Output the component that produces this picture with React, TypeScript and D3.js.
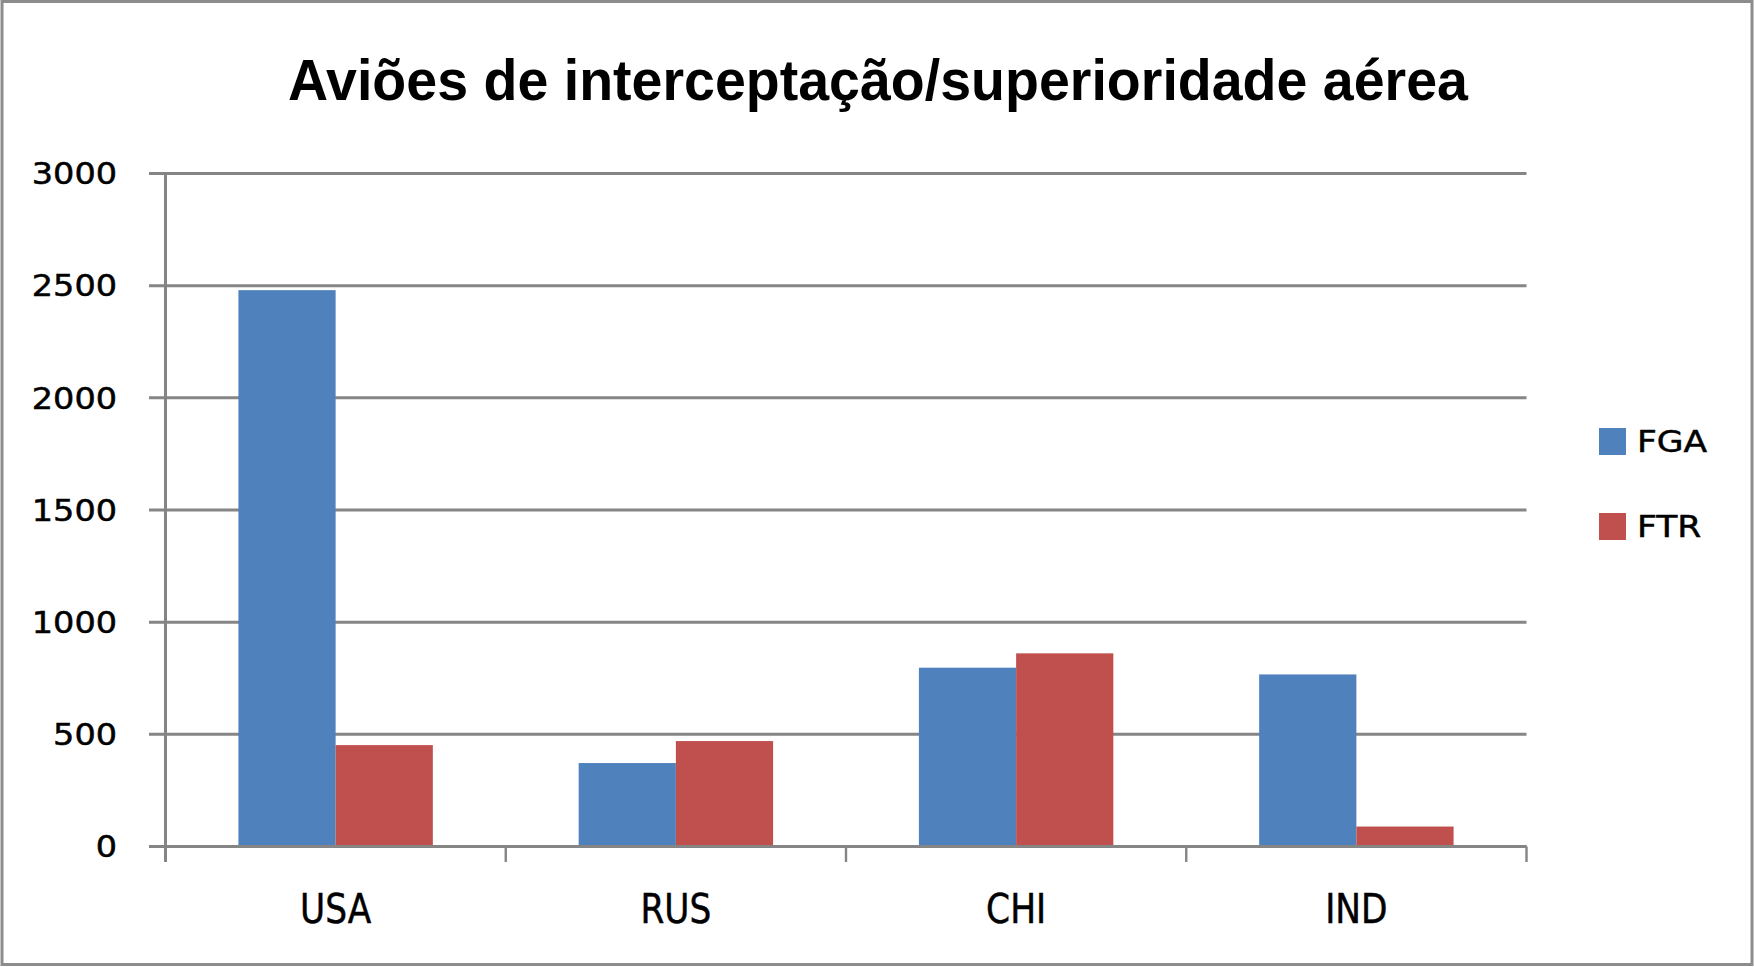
import React from "react";
import * as d3 from "d3";

const categories = ["USA", "RUS", "CHI", "IND"];
const seriesNames = ["FGA", "FTR"];
const fgaValues = [2480, 372, 797, 767];
const ftrValues = [452, 470, 861, 89];
const yTicks = [0, 500, 1000, 1500, 2000, 2500, 3000];
const title = "Aviões de interceptação/superioridade aérea";

const colors = ["#4F81BD", "#C0504D"];

export default function App() {
  const W = 1754;
  const H = 967;
  const left = 165.5;
  const right = 1526.5;
  const top = 173.5;
  const bottom = 846.5;

  const y = d3.scaleLinear().domain([0, 3000]).range([bottom, top]);
  const x0 = d3
    .scaleBand<string>()
    .domain(categories)
    .range([left, right])
    .paddingInner(1.5 / 3.5)
    .paddingOuter(0.75 / 3.5);
  const x1 = d3.scaleBand<string>().domain(seriesNames).range([0, x0.bandwidth()]);
  const step = x0.step();

  const values = [fgaValues, ftrValues];
  const gridColor = "#858585";
  const gw = 3;

  return (
    <svg
      width={W}
      height={H}
      style={{ position: "absolute", left: 0, top: 0, background: "#fff" }}
    >
      <rect x={0} y={0} width={W} height={H} fill="#fff" />
      <rect x={2} y={1.5} width={W - 4} height={H - 4} fill="none" stroke="#8c8c8c" strokeWidth={3} />

      <text
        x={878}
        y={100}
        textAnchor="middle"
        fontFamily="Liberation Sans, Arial, sans-serif"
        fontWeight="bold"
        fontSize={58}
        textLength={1180}
        lengthAdjust="spacingAndGlyphs"
        fill="#000"
      >
        {title}
      </text>

      {/* gridlines + y ticks */}
      {yTicks.map((t) => (
        <g key={t}>
          <line x1={149} x2={right} y1={y(t)} y2={y(t)} stroke={gridColor} strokeWidth={gw} />
          <text
            x={117}
            y={y(t)}
            dy="0.36em"
            textAnchor="end"
            fontFamily="DejaVu Sans, Verdana, sans-serif"
            fontSize={30}
            textLength={String(t).length * 21.3}
            lengthAdjust="spacingAndGlyphs"
            fill="#000"
            stroke="#000"
            strokeWidth={0.5}
          >
            {t}
          </text>
        </g>
      ))}

      {/* bars */}
      {categories.map((c, i) => (
        <g key={c}>
          {seriesNames.map((s, j) => (
            <rect
              key={s}
              x={(x0(c) as number) + (x1(s) as number)}
              y={y(values[j][i])}
              width={x1.bandwidth()}
              height={y(0) - y(values[j][i])}
              fill={colors[j]}
            />
          ))}
        </g>
      ))}

      {/* y axis line */}
      <line x1={left} x2={left} y1={top} y2={862} stroke={gridColor} strokeWidth={gw} />
      {/* x axis line */}
      <line x1={149} x2={right} y1={bottom} y2={bottom} stroke={gridColor} strokeWidth={gw} />
      {/* x ticks at category boundaries */}
      {categories.map((c, i) => (
        <line
          key={"t" + c}
          x1={left + step * (i + 1)}
          x2={left + step * (i + 1)}
          y1={bottom}
          y2={862}
          stroke={gridColor}
          strokeWidth={2.4}
        />
      ))}

      {/* x labels */}
      {categories.map((c) => (
        <text
          key={"l" + c}
          transform={`translate(${(x0(c) as number) + x0.bandwidth() / 2},923) scale(0.86,1)`}
          textAnchor="middle"
          fontFamily="DejaVu Sans, Verdana, sans-serif"
          fontSize={40}
          fill="#000"
          stroke="#000"
          strokeWidth={0.5}
        >
          {c}
        </text>
      ))}

      {/* legend */}
      {seriesNames.map((s, j) => (
        <g key={"lg" + s} transform={`translate(1599,${428 + j * 85})`}>
          <rect x={0} y={0} width={27} height={27} fill={colors[j]} />
          <text
            transform="translate(38,24) scale(1.15,1)"
            fontFamily="DejaVu Sans, Verdana, sans-serif"
            fontSize={30}
            fill="#000"
            stroke="#000"
            strokeWidth={0.5}
          >
            {s}
          </text>
        </g>
      ))}
    </svg>
  );
}
